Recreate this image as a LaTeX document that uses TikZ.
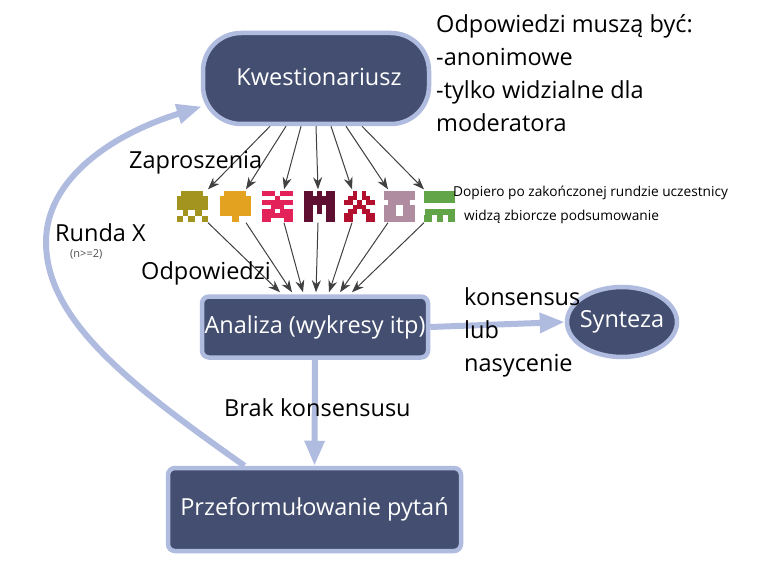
\documentclass[tikz,border=0pt]{standalone}
\usepackage{fontspec}
\usepackage{xcolor}
\setmainfont{Open Sans}
\usetikzlibrary{arrows.meta,shapes.geometric,calc}
\definecolor{boxfill}{HTML}{434E70}
\definecolor{boxline}{HTML}{B0BBE0}
\definecolor{ikona1}{HTML}{A3941F}
\definecolor{ikona2}{HTML}{E3A320}
\definecolor{ikona3}{HTML}{E3225A}
\definecolor{ikona4}{HTML}{5F1032}
\definecolor{ikona5}{HTML}{B3102F}
\definecolor{ikona6}{HTML}{B08CA0}
\definecolor{ikona7}{HTML}{62A548}
% one pixel figure: runs of cells given as row/first/last
\newcommand{\ikona}[4]{
    \node (#1) [icon] at (#2,207) {};
    \foreach \r/\a/\b in {#4} {
        \fill [#3] ($(#1.north west)+(\a*4.43,\r*4.43)$) rectangle ($(#1.north west)+(\b*4.43+4.53,\r*4.43+4.53)$);
    }
}
\begin{document}
\begin{tikzpicture}[x=1pt,y=-1pt]
    % Define styles
    \tikzstyle{icon} = [rectangle, minimum size=31pt, inner sep=0pt]
    \tikzstyle{box} = [rectangle, rounded corners=7pt, draw=boxline, line width=4.5pt, fill=boxfill, text=white, font=\fontsize{23.5}{28}\selectfont, inner sep=0pt]
    \tikzstyle{label} = [font=\fontsize{23.5}{28}\selectfont, text=black, inner sep=0pt]
    \tikzstyle{small} = [font=\fontsize{13.7}{16}\selectfont, text=black, inner sep=0pt]
    \tikzstyle{arrow} = [black!75, line width=1pt, -{Stealth[length=12pt,width=9pt]}]
    \tikzstyle{bigarrow} = [boxline, line width=6pt, -{Triangle[length=25pt,width=19pt]}]
    \useasboundingbox (0,0) rectangle (763,572);

    % Main boxes
    \node (kwest) [box, rounded corners=38pt, minimum width=226pt, minimum height=91pt] at (316,78.5) {\raisebox{3pt}{\hspace{6pt}Kwestionariusz}};
    \node (analiza) [box, minimum width=226pt, minimum height=61pt] at (315,327) {Analiza (wykresy itp)};
    \node (synteza) [box, ellipse, inner xsep=-10pt, inner ysep=-4pt, minimum width=110pt, minimum height=70pt] at (622,322) {Synteza};
    \node (pytania) [box, minimum width=293pt, minimum height=83pt] at (314.5,509.5) {\raisebox{2pt}{Przeformułowanie pytań}};
    \coordinate (zakret) at (46,242);

    % Pixel figures
    \ikona{ik1}{192.5}{ikona1}{0/1/5,1/0/6,2/0/6,3/0/6,3.2/0/6,4.1/1.5/1.58,4.5/1.5/1.58,4.1/4.1/4.6,4.5/4.1/4.6,5.5/0/0.48,6/0/0.48,5.5/2.6/3.08,6/2.6/3.08,5.5/5.6/5.98,6/5.6/5.98}
    \ikona{ik2}{235.5}{ikona2}{0/1/5,1/0/6,2/0/6,3/0/6,4/0/6,4.6/0/6,5.6/2.8/3.28,6/2.8/3.28}
    \ikona{ik3}{277.5}{ikona3}{0/0/2,0/4/6,1/3/3,2/0/6,3/2/4,4/0/2,4/4/6,5/0/6,6/0/1,6/5/6}
    \ikona{ik4}{319.5}{ikona4}{0/0/1,0/3/3,0/5/6,1/0/6,2/0/6,3/0/1,3/3/3,3/5/6,4/0/1,4/3/3,4/5/6,5/0/1,5/5/6,6/0/1,6/5/6}
    \ikona{ik5}{359.5}{ikona5}{0/2/2,0/4/4,1/1/2,1/4/5,2/0/1,2/3/3,2/5/6,3/2/4,4/1/2,4/4/5,5/0/1,5/5/6,6/0/1,6/5/6}
    \ikona{ik6}{399.5}{ikona6}{0/0/6,1/0/6,2/1/5,3/0/1.68,3/4.3/5.98,4/0/1.68,4/4.3/5.98,4.6/0/1.68,4.6/4.3/5.98,5.6/0/6,6/0/6}
    \ikona{ik7}{439.5}{ikona7}{0/0/6,1/0/6,1.6/0/6,3.9/0.3/6,4.3/0.3/6,5.3/0/0.8,6/0/0.8,5.3/3/3.38,6/3/3.38,5.3/5.5/5.98,6/5.5/5.98}

    % Thin arrows - down to the figures, then on to the analysis
    \foreach \n/\s/\e/\t in {ik1/-46/15.5/-35,ik2/-30/10.5/-23,ik3/-15/6.5/-12,ik4/0/-1.5/1,ik5/15/-7.5/14,ik6/30/-11.5/25,ik7/46/-15.5/37} {
        \draw [arrow] ([xshift=\s pt]kwest.south) -- ([xshift=\e pt,yshift=2pt]\n.north);
        \draw [arrow] ([xshift=\e pt]\n.south) -- ([xshift=\t pt,yshift=2pt]analiza.north);
    }

    % Thick arrows
    \draw [bigarrow] (analiza.east) -- (synteza.west);
    \draw [bigarrow] (analiza.south) -- (pytania.north);
    \draw [bigarrow] ([xshift=-70pt]pytania.north) .. controls (130,385) and (46,320) .. (zakret) .. controls (46,180) and (110,135) .. ([xshift=1pt,yshift=-28pt]kwest.west);

    % Labels
    \node (warunki) [label, anchor=north west, align=left, font=\fontsize{23.5}{33}\selectfont] at (436,14) {Odpowiedzi muszą być:\\-anonimowe\\-tylko widzialne dla\\moderatora};
    \node (zaproszenia) [label, anchor=base west] at (129,169) {Zaproszenia};
    \node (odpowiedzi) [label, anchor=base west] at (141,279) {Odpowiedzi};
    \node (runda) [label, anchor=base west] at (55,242) {Runda X};
    \node (rundy) [small, anchor=base west, font=\fontsize{11}{13}\selectfont, text=black!70] at (70,258) {(n>=2)};
    \node (brak) [label, anchor=base west] at (224,416) {Brak konsensusu};
    \node (konsensus) [label, anchor=north west, align=left, font=\fontsize{23.5}{33}\selectfont] at (464,287) {konsensus\\lub\\nasycenie};
    \node (dopiero) [small, anchor=base west] at (453,197) {Dopiero po zakończonej rundzie uczestnicy};
    \node (zbiorcze) [small, anchor=base west] at (464,221) {widzą zbiorcze podsumowanie};
\end{tikzpicture}
\end{document}
